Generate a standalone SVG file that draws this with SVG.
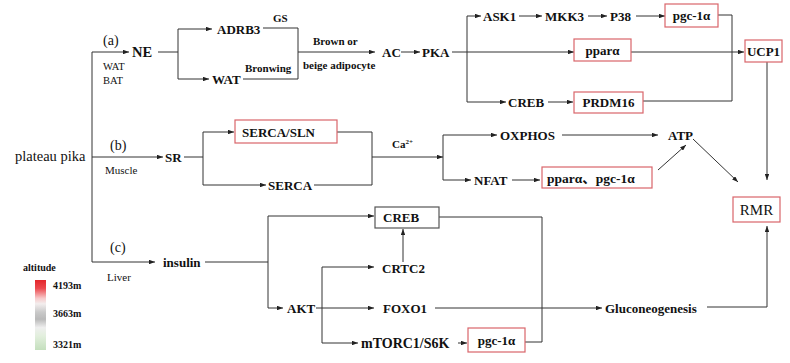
<svg xmlns="http://www.w3.org/2000/svg" width="790" height="363" viewBox="0 0 790 363">
<style>
text{font-family:"Liberation Serif","Times New Roman",serif;fill:#111}
.cjk{font-family:"Liberation Serif","Times New Roman","Noto Sans CJK SC",serif}
.b{font-weight:bold;font-size:13px}
.s{font-weight:bold;font-size:11px}
.r{font-size:14px}
.t{font-size:10.5px}
.box{fill:#fff;stroke:#d9656a;stroke-width:1.2}
.gbox{fill:#fff;stroke:#555;stroke-width:1.2}
.ln{fill:none;stroke:#333;stroke-width:1}
.ar{fill:none;stroke:#333;stroke-width:1;marker-end:url(#ah)}
.lg{font-weight:bold;font-size:10px}
</style>
<defs>
<marker id="ah" viewBox="0 0 8 6" refX="8" refY="3" markerWidth="6" markerHeight="4.5" orient="auto" markerUnits="userSpaceOnUse">
<path d="M0,0 L8,3 L0,6 z" fill="#222"/>
</marker>
<linearGradient id="alt" x1="0" y1="0" x2="0" y2="1">
<stop offset="0" stop-color="#e3262b"/>
<stop offset="0.12" stop-color="#ec4a4f"/>
<stop offset="0.26" stop-color="#f7c9ca"/>
<stop offset="0.34" stop-color="#f3eeee"/>
<stop offset="0.46" stop-color="#c9c9c9"/>
<stop offset="0.56" stop-color="#b9b9b9"/>
<stop offset="0.68" stop-color="#efefef"/>
<stop offset="0.8" stop-color="#e2efdd"/>
<stop offset="1" stop-color="#c4dfbd"/>
</linearGradient>
</defs>
<rect width="790" height="363" fill="#fff"/>

<g id="connectors">
<path class="ln" d="M92,52 V262"/>
<path class="ar" d="M92,52 H129"/>
<path class="ar" d="M92,157 H163"/>
<path class="ar" d="M92,262 H155"/>
<path class="ln" d="M158,52 H178 M178,29 V79"/>
<path class="ar" d="M178,29 H212"/>
<path class="ar" d="M178,79 H209"/>
<path class="ln" d="M263,28 H298 V79 H243"/>
<path class="ar" d="M298,52 H375"/>
<path class="ar" d="M401,52 H420"/>
<path class="ar" d="M452,52 H574"/>
<path class="ln" d="M467,16 V102"/>
<path class="ar" d="M467,16 H481"/>
<path class="ar" d="M519,16 H542"/>
<path class="ar" d="M588,16 H607"/>
<path class="ar" d="M636,16 H665"/>
<path class="ln" d="M718,15 H732 V101 H643"/>
<path class="ar" d="M631,52 H744"/>
<path class="ar" d="M467,102 H506"/>
<path class="ar" d="M548,102 H573"/>
<path class="ar" d="M767,62 V180"/>
<path class="ln" d="M184,157 H203 M203,132 V185"/>
<path class="ar" d="M203,132 H234"/>
<path class="ar" d="M203,185 H266"/>
<path class="ln" d="M337,132 H372 V185 H314"/>
<path class="ar" d="M372,157 H443"/>
<path class="ln" d="M443,135 V180"/>
<path class="ar" d="M443,135 H497"/>
<path class="ar" d="M443,180 H471"/>
<path class="ar" d="M562,135 H658"/>
<path class="ar" d="M512,180 H540"/>
<path class="ar" d="M658,170 L686,145"/>
<path class="ar" d="M693,139 L738,182"/>
<path class="ln" d="M205,262 H268 M268,216 V308"/>
<path class="ar" d="M268,216 H374"/>
<path class="ar" d="M268,308 H283"/>
<path class="ln" d="M439,217 H542 V342 H525"/>
<path class="ln" d="M322,267 V343"/>
<path class="ar" d="M316,308 H374"/>
<path class="ar" d="M322,267 H374"/>
<path class="ar" d="M322,343 H358"/>
<path class="ar" d="M403,262 V229"/>
<path class="ar" d="M458,343 H467"/>
<path class="ar" d="M435,308 H602"/>
<path class="ln" d="M707,307 H767"/>
<path class="ar" d="M767,307 V226"/>
</g>

<g id="plateau-pika"><text class="r" x="15" y="161" style="font-size:14.5px">plateau pika</text></g>

<g id="labels">
<text class="r" x="103" y="45">(a)</text>
<text class="t" x="103" y="70">WAT</text>
<text class="t" x="103" y="84">BAT</text>
<text class="r" x="110" y="150">(b)</text>
<text class="t" x="105" y="174" style="font-size:11px">Muscle</text>
<text class="r" x="110" y="252">(c)</text>
<text class="t" x="107" y="281" style="font-size:11px">Liver</text>
<text class="s" x="273" y="22">GS</text>
<text class="s" x="245" y="72">Bronwing</text>
<text class="s" x="313" y="45">Brown or</text>
<text class="s" x="303" y="69">beige adipocyte</text>
<text class="s" x="392" y="148">Ca<tspan dy="-4" font-size="7px">2+</tspan></text>
</g>

<g id="NE"><text class="b" x="132" y="57" style="font-size:14.5px">NE</text></g>
<g id="ADRB3"><text class="b" x="217" y="34">ADRB3</text></g>
<g id="WAT"><text class="b" x="212" y="84">WAT</text></g>
<g id="AC"><text class="b" x="382" y="57">AC</text></g>
<g id="PKA"><text class="b" x="422" y="57">PKA</text></g>
<g id="ASK1"><text class="b" x="483" y="21">ASK1</text></g>
<g id="MKK3"><text class="b" x="545" y="21">MKK3</text></g>
<g id="P38"><text class="b" x="610" y="21">P38</text></g>
<g id="pgc1a-top"><rect class="box" x="665" y="4" width="53" height="23"/><text class="b" x="691.5" y="20" text-anchor="middle">pgc-1α</text></g>
<g id="ppara-top"><rect class="box" x="574" y="39" width="57" height="22"/><text class="b" x="602.5" y="55" text-anchor="middle">pparα</text></g>
<g id="UCP1"><rect class="box" x="745" y="40" width="37" height="22"/><text class="b" x="763.5" y="56" text-anchor="middle">UCP1</text></g>
<g id="CREB-top"><text class="b" x="508" y="107">CREB</text></g>
<g id="PRDM16"><rect class="box" x="574" y="92" width="69" height="21"/><text class="b" x="608.5" y="107" text-anchor="middle">PRDM16</text></g>

<g id="SR"><text class="b" x="165" y="162">SR</text></g>
<g id="SERCA-SLN"><rect class="box" x="235" y="120" width="102" height="23"/><text class="b" x="242" y="137">SERCA/SLN</text></g>
<g id="SERCA"><text class="b" x="268" y="190">SERCA</text></g>
<g id="OXPHOS"><text class="b" x="500" y="140">OXPHOS</text></g>
<g id="ATP"><text class="b" x="668" y="140">ATP</text></g>
<g id="NFAT"><text class="b" x="474" y="185">NFAT</text></g>
<g id="ppara-pgc1a"><rect class="box" x="542" y="167" width="110" height="21"/><text class="b cjk" x="547" y="183" style="font-size:13.5px">pparα、pgc-1α</text></g>
<g id="RMR"><rect class="box" x="733" y="197" width="47" height="25"/><text x="756.5" y="215" text-anchor="middle" style="font-size:15px">RMR</text></g>

<g id="insulin"><text class="b" x="163" y="267">insulin</text></g>
<g id="CREB-bottom"><rect class="gbox" x="375" y="207" width="64" height="21"/><text class="b" x="383" y="222">CREB</text></g>
<g id="AKT"><text class="b" x="287" y="313">AKT</text></g>
<g id="CRTC2"><text class="b" x="382" y="273">CRTC2</text></g>
<g id="FOXO1"><text class="b" x="383" y="313">FOXO1</text></g>
<g id="mTORC1-S6K"><text class="b" x="361" y="348" style="font-size:14px">mTORC1/S6K</text></g>
<g id="pgc1a-bottom"><rect class="box" x="468" y="328" width="57" height="24"/><text class="b" x="496.5" y="345" text-anchor="middle">pgc-1α</text></g>
<g id="Gluconeogenesis"><text class="b" x="605" y="313">Gluconeogenesis</text></g>

<g id="legend">
<text class="lg" x="23" y="271">altitude</text>
<rect x="35" y="280" width="11" height="70" fill="url(#alt)"/>
<text class="lg" x="53" y="289">4193m</text>
<text class="lg" x="53" y="317">3663m</text>
<text class="lg" x="53" y="348">3321m</text>
</g>
</svg>
